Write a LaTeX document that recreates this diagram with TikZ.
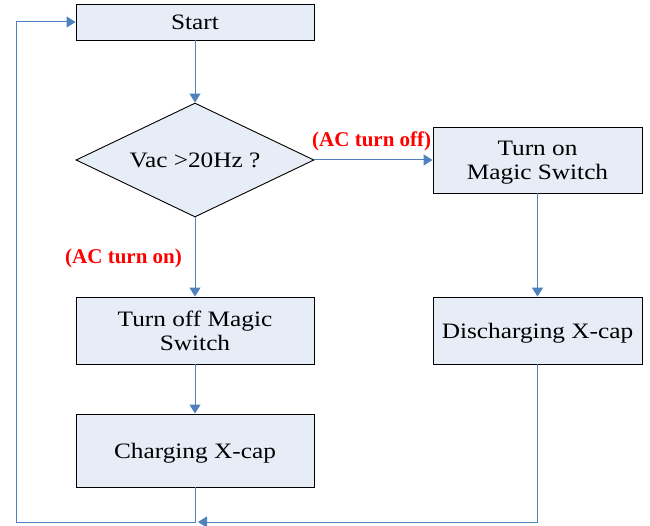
\documentclass[tikz,border=0pt]{standalone}
\usepackage{fontspec}
\setmainfont{Liberation Serif}
\newfontfamily\boxfont[FakeStretch=1.15]{Liberation Serif}
\usetikzlibrary{shapes.geometric,arrows.meta}
\definecolor{lineblue}{HTML}{4F81BD}
\definecolor{boxfill}{HTML}{E6EDF7}
\begin{document}
\begin{tikzpicture}[x=1pt,y=-1pt,
 box/.style={draw=black, fill=boxfill, line width=0.9pt, inner sep=0pt, align=center, text depth=0pt, font=\boxfont\fontsize{22}{24}\selectfont},
 conn/.style={draw=lineblue, line width=1pt},
 arr/.style={conn, -{Triangle[length=9pt,width=11pt]}},
 lab/.style={text=red, font=\bfseries\fontsize{21}{23}\selectfont, inner sep=0pt}]
\useasboundingbox (0,0) rectangle (650,526);
\node[box, minimum width=238pt, minimum height=36pt] (start) at (195,22) {Start};
\node[box, diamond, shape aspect=2.09, minimum width=238pt, minimum height=114pt] (dec) at (195,160) {Vac >20Hz ?};
\node[box, minimum width=209pt, minimum height=66pt] (on) at (537.5,160) {Turn on\\Magic Switch};
\node[box, minimum width=238pt, minimum height=67pt] (off) at (195,330.5) {Turn off Magic\\Switch};
\node[box, minimum width=209pt, minimum height=67pt] (dis) at (537.5,330.5) {Discharging X-cap};
\node[box, minimum width=238pt, minimum height=73pt] (chg) at (195,450.5) {Charging X-cap};
\coordinate (corner) at (16,522);
\coordinate (join) at (198,522);
\draw[arr] (start.south) -- (dec.north);
\draw[arr] (dec.east) -- (on.west);
\draw[arr] (dec.south) -- (off.north);
\draw[arr] (on.south) -- (dis.north);
\draw[arr] (off.south) -- (chg.north);
\draw[arr] (dis.south) |- (join);
\draw[arr] (chg.south) |- (corner) |- (start.west);
\node[lab, anchor=base west] (lboff) at (312,147) {(AC turn off)};
\node[lab, anchor=base west] (lbon) at (65,264) {(AC turn on)};
\end{tikzpicture}
\end{document}
